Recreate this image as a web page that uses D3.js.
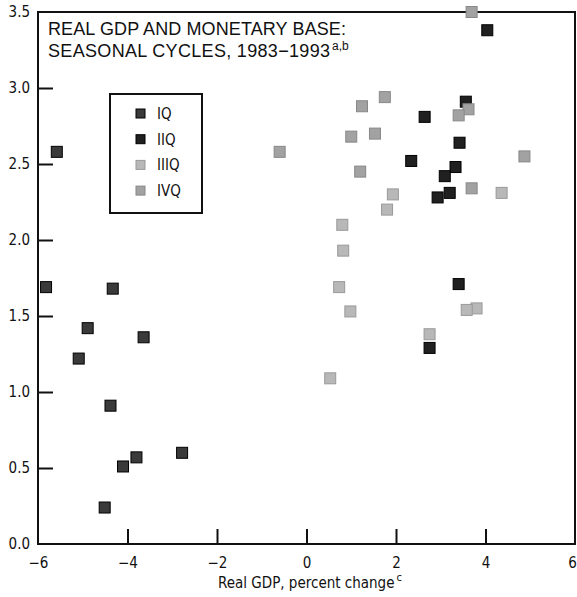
<!DOCTYPE html>
<meta charset="utf-8">
<script src="https://d3js.org/d3.v7.min.js"></script>
<style>
body { margin: 0; padding: 0; background: #fff; }
.axis text, .xlabel, .legend text { font-family: "DejaVu Sans Condensed", "Liberation Sans Narrow", sans-serif; font-stretch: condensed; font-size: 15px; fill: #111; }
.axis line { stroke: #111; stroke-width: 2px; }
.title { font-family: "Liberation Sans", Arial, sans-serif; font-size: 18px; fill: #111; }
</style>
<body>
<div id="chart"></div>
<script>
// data: real GDP % change (x) vs monetary base (y)
var quarters = ["IQ", "IIQ", "IIIQ", "IVQ"];

var iqX = [-5.58, -5.82, -4.33, -4.89, -5.09, -3.64, -4.38, -4.10, -3.80, -2.78, -4.51];
var iqY = [2.58, 1.69, 1.68, 1.42, 1.22, 1.36, 0.91, 0.51, 0.57, 0.60, 0.24];

var iiqX = [4.04, 3.56, 2.64, 3.42, 2.34, 3.33, 3.09, 3.20, 2.93, 3.40, 2.75];
var iiqY = [3.38, 2.91, 2.81, 2.64, 2.52, 2.48, 2.42, 2.31, 2.28, 1.71, 1.29];

var iiiqX = [4.36, 1.93, 1.80, 0.80, 0.82, 0.73, 3.80, 3.58, 0.98, 2.75, 0.53];
var iiiqY = [2.31, 2.30, 2.20, 2.10, 1.93, 1.69, 1.55, 1.54, 1.53, 1.38, 1.09];

var ivqX = [3.69, 1.75, 1.24, 3.62, 3.40, 1.53, 1.00, -0.60, 4.87, 1.20, 3.69];
var ivqY = [3.50, 2.94, 2.88, 2.86, 2.82, 2.70, 2.68, 2.58, 2.55, 2.45, 2.34];

var xTicks = [-6, -4, -2, 0, 2, 4, 6];
var yTicks = [0, 0.5, 1.0, 1.5, 2.0, 2.5, 3.0, 3.5];

var series = [
  {name: quarters[0], xs: iqX,   ys: iqY,   fill: "#3a3a3a", stroke: "#000"},
  {name: quarters[1], xs: iiqX,  ys: iiqY,  fill: "#202020", stroke: "#000"},
  {name: quarters[2], xs: iiiqX, ys: iiiqY, fill: "#b8b8b8", stroke: "#999"},
  {name: quarters[3], xs: ivqX,  ys: ivqY,  fill: "#a2a2a2", stroke: "#888"}
];

var W = 577, H = 597;
var mLeft = 38, mRight = 575, mTop = 12, mBottom = 544;

var svg = d3.select("#chart").append("svg")
  .attr("width", W)
  .attr("height", H);

var x = d3.scaleLinear().domain([-6, 6]).range([mLeft, mRight]);
var y = d3.scaleLinear().domain([0, 3.5]).range([mBottom, mTop]);

// x axis, ticks point inward
var gx = svg.append("g")
  .attr("class", "axis")
  .attr("transform", "translate(0," + mBottom + ")")
  .call(d3.axisBottom(x).tickValues(xTicks).tickSizeInner(-15).tickSizeOuter(0).tickPadding(13)
    .tickFormat(function(d) { return d < 0 ? "\u2212" + Math.abs(d) : d; }));
gx.select(".domain").remove();
gx.selectAll(".tick").filter(function(d) { return d == -6 || d == 6; }).select("line").remove();
gx.selectAll(".tick").filter(function(d) { return d == 6; }).select("text").attr("dx", -3);

// y axis
var gy = svg.append("g")
  .attr("class", "axis")
  .attr("transform", "translate(" + mLeft + ",0)")
  .call(d3.axisLeft(y).tickValues(yTicks).tickSizeInner(-15).tickSizeOuter(0).tickPadding(8)
    .tickFormat(d3.format(".1f")));
gy.select(".domain").remove();
gy.selectAll(".tick").filter(function(d) { return d == 0 || d == 3.5; }).select("line").remove();

// frame
svg.append("rect")
  .attr("x", mLeft)
  .attr("y", mTop)
  .attr("width", mRight - mLeft)
  .attr("height", mBottom - mTop)
  .style("fill", "none")
  .style("stroke", "#111")
  .style("stroke-width", 2);

// x label
var xl = svg.append("text")
  .attr("class", "xlabel")
  .attr("x", 218)
  .attr("y", 588);
xl.append("tspan").text("Real GDP, percent change");
xl.append("tspan").attr("dx", 2).attr("dy", -7).style("font-size", "11px").text("c");

// title
svg.append("text").attr("class", "title").attr("x", 48).attr("y", 35)
  .attr("textLength", 298).attr("lengthAdjust", "spacing")
  .text("REAL GDP AND MONETARY BASE:");
svg.append("text").attr("class", "title").attr("x", 48).attr("y", 57)
  .attr("textLength", 282).attr("lengthAdjust", "spacing")
  .text("SEASONAL CYCLES, 1983\u22121993");
svg.append("text").attr("class", "title").attr("x", 332).attr("y", 50)
  .style("font-size", "12px")
  .text("a,b");

// points
var s = 11;
series.forEach(function(ser) {
  svg.append("g")
    .selectAll("rect")
    .data(ser.xs.map(function(v, i) { return [v, ser.ys[i]]; }))
    .enter()
    .append("rect")
      .attr("x", function(d) { return x(d[0]) - s / 2; })
      .attr("y", function(d) { return y(d[1]) - s / 2; })
      .attr("width", s)
      .attr("height", s)
      .style("fill", ser.fill)
      .style("stroke", ser.stroke)
      .style("stroke-width", 1);
});

// legend
var lg = svg.append("g").attr("class", "legend");
lg.append("rect")
  .attr("x", 110).attr("y", 94).attr("width", 92).attr("height", 119)
  .style("fill", "#fff").style("stroke", "#111").style("stroke-width", 2);
lg.selectAll("rect.key")
  .data(series)
  .enter()
  .append("rect")
    .attr("class", "key")
    .attr("x", 136)
    .attr("y", function(d, i) { return 109 + i * 25.7; })
    .attr("width", 9)
    .attr("height", 9)
    .style("fill", function(d) { return d.fill; })
    .style("stroke", function(d) { return d.stroke; });
lg.selectAll("text.lab")
  .data(series)
  .enter()
  .append("text")
    .attr("class", "lab")
    .attr("x", 157)
    .attr("y", function(d, i) { return 119 + i * 25.7; })
    .text(function(d) { return d.name; });
</script>
</body>
